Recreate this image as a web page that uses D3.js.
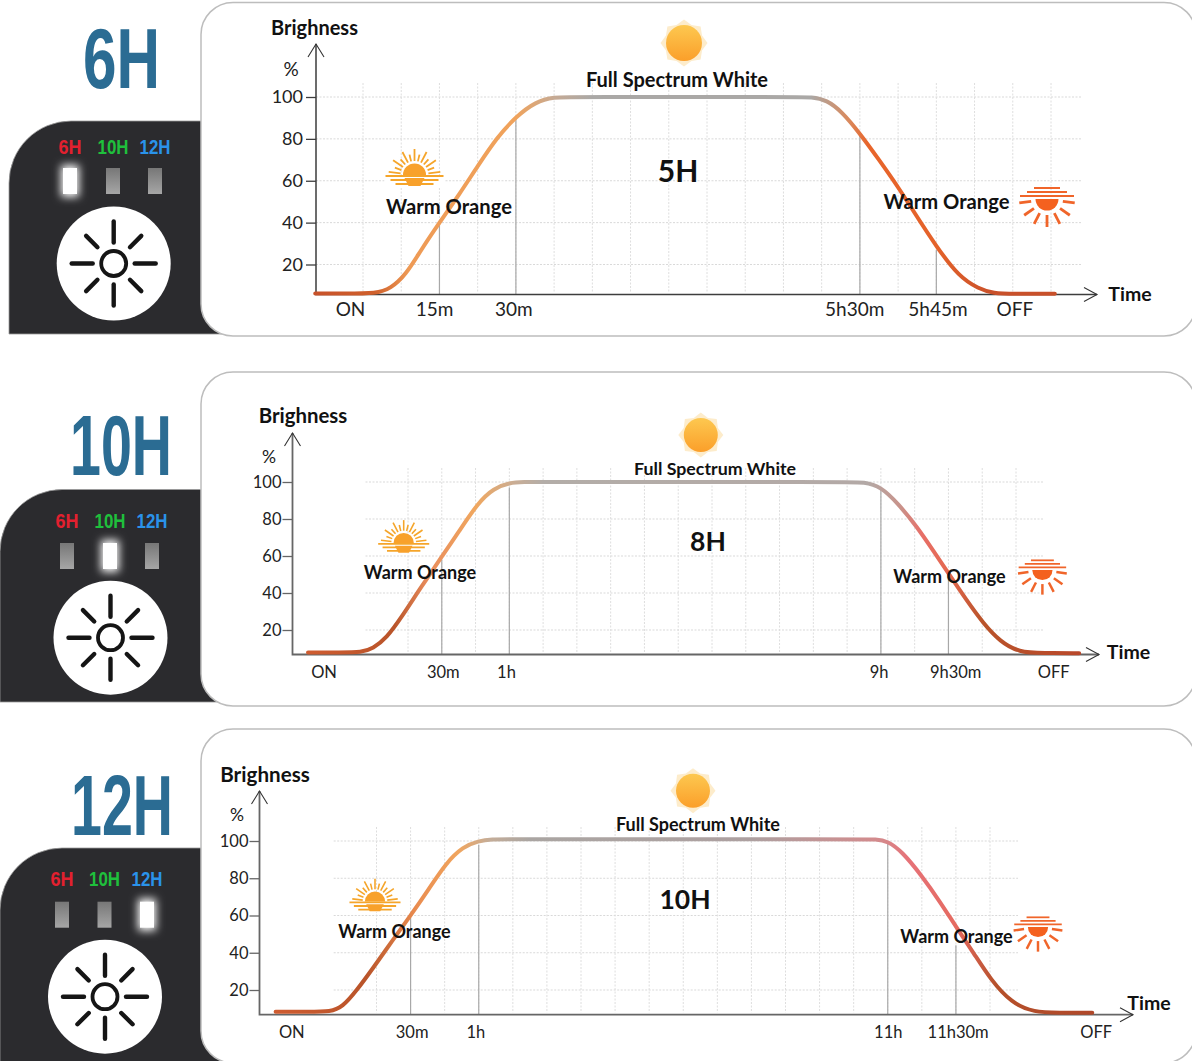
<!DOCTYPE html>
<html>
<head>
<meta charset="utf-8">
<title>Brightness timer curves</title>
<script src="https://cdn.jsdelivr.net/npm/d3@7"></script>
<style>
    html, body { margin: 0; padding: 0; background: #fff; }
    svg { display: block; }
    text { font-family: Lato, "Open Sans", sans-serif; fill: #1a1a1a; }
    .bold { font-weight: 700; fill: #111; }
    .narrow { font-family: "Liberation Sans Narrow", "Liberation Sans", sans-serif; font-weight: 700; }
</style>
</head>
<body>
<script>
var modeLabels = ["6H", "10H", "12H"];
var pctTicks = [20, 40, 60, 80, 100];
var gridSteps = d3.range(0, 19);

// x values are grid steps of the drawing, the time axis there is schematic
var steps6 = [-1.25, -0.5, 0.36, 0.72, 1.12, 1.52, 2, 2.52, 3, 3.52, 4, 4.52, 5, 5.5, 11.3, 11.74, 12.13, 12.53, 13, 13.5, 14, 14.4, 15, 15.6, 16.1, 16.5, 17, 18.1];
var pct6 = [6.1, 6.1, 6.1, 8.5, 15, 27, 40, 53.5, 67, 81, 90.6, 97.8, 100, 100, 100, 100, 98.6, 93, 82.6, 70, 57, 45.5, 28.5, 14, 8.5, 6.1, 6, 6];
var steps10 = [-2.96, -2, -1.37, -1.04, -0.64, -0.18, 0.38, 1, 1.5, 2.08, 2.54, 3, 3.44, 3.9, 13, 13.5, 14, 14.5, 15.07, 15.57, 16, 16.53, 17.03, 17.53, 18.09, 18.8, 19.87];
var pct10 = [7.9, 7.9, 7.9, 10, 15.5, 27.2, 43, 59.6, 73, 89, 96.6, 99.6, 100, 100, 100, 100, 97.5, 88.5, 75.8, 62.3, 50.6, 36.2, 23.6, 13.7, 7.9, 7.5, 7.5];
var steps12 = [-2.96, -2, -1.34, -1, -0.6, -0.1, 0.45, 0.98, 1.53, 2.03, 2.54, 2.99, 3.38, 3.9, 14.2, 14.65, 15, 15.42, 15.98, 16.53, 17, 17.52, 18.02, 18.63, 19.3, 20, 21];
var pct12 = [8.3, 8.3, 8.3, 10.9, 19.3, 31.8, 46.1, 59.5, 74, 88, 97, 100, 101, 101, 101, 101, 100, 94.3, 81.8, 67.5, 54, 39.9, 25.5, 13, 8, 7.8, 7.8];

var timeLabels6 = ["ON", "15m", "30m", "5h30m", "5h45m", "OFF"];
var timeSteps6 = [-0.34, 1.86, 3.93, 12.85, 15.03, 17.04];
var timeLabels10 = ["ON", "30m", "1h", "9h", "9h30m", "OFF"];
var timeSteps10 = [-2.5, 1.03, 2.9, 13.93, 16.2, 19.1];
var timeLabels12 = ["ON", "30m", "1h", "11h", "11h30m", "OFF"];
var timeSteps12 = [-2.5, 1.03, 2.9, 15, 17.05, 21.1];

var dropSteps6 = [2, 4, 13, 15];
var dropPct6 = [40, 90, 82, 27];
var dropSteps10 = [1, 3, 14, 16];
var dropPct10 = [58, 97, 97, 49];
var dropSteps12 = [1, 3, 15, 17];
var dropPct12 = [59, 98, 100, 44];

var panels = [
    {
        title: "6H", hours: "5H", active: 0,
        titleBox: [83, 88, 77, 86],
        card: [201, 2.5, 336], box: [9, 121, 334],
        modeX: [70, 113, 155], modeBase: 154, ledY: 168,
        knob: [113.7, 263.5],
        x: [363, 1051], y: [264.5, 97], baseline: 294.5, axisX: 316, axisTop: 44, axisEnd: 1097,
        gridTop: 83, gridX: [316, 1082], fs: 18, xfs: 19, yPad: 3, xPad: 8, axisW: 1.5, axisC: "#3d3d3d",
        steps: steps6, pct: pct6,
        timeLabels: timeLabels6, timeSteps: timeSteps6, dropSteps: dropSteps6, dropPct: dropPct6,
        brighness: [314.5, 35, 20], percent: [291, 76], time: [1130, 301],
        full: [677, 87, 20], hoursText: [678, 182, 30],
        warmL: [449, 214, 20.2], warmR: [946.5, 209, 20.2],
        sun: [684, 43, 18], rise: [414.5, 175, 1], set: [1047, 199, 1],
        stops: [[-1.25, "#c8522a"], [0.3, "#cf5f2b"], [1.2, "#ee9a55"], [4, "#f0a35c"], [5, "#c6aa94"], [6, "#aaa8a6"], [11.7, "#aaa8a6"], [12.7, "#d98a5e"], [13.2, "#e8652b"], [15, "#e4622a"], [16.5, "#c8502a"], [18.1, "#c8502a"]]
    },
    {
        title: "10H", hours: "8H", active: 1,
        titleBox: [70, 475, 102, 86],
        card: [201, 372, 706], box: [0, 489.5, 702],
        modeX: [67, 110, 152], modeBase: 528, ledY: 543,
        knob: [110.5, 637.7],
        x: [408, 1016], y: [630, 482], baseline: 654.5, axisX: 292.5, axisTop: 433, axisEnd: 1099,
        gridTop: 468, gridX: [365.5, 1043.5], fs: 16.5, xfs: 16.5, yPad: 1, xPad: 12, axisW: 1.8, axisC: "#666",
        steps: steps10, pct: pct10,
        timeLabels: timeLabels10, timeSteps: timeSteps10, dropSteps: dropSteps10, dropPct: dropPct10,
        brighness: [303, 423, 20.4], percent: [269, 463], time: [1128.5, 659],
        full: [715, 474.5, 17.8], hoursText: [708, 550.5, 26.5],
        warmL: [420, 579, 18], warmR: [949.5, 582.5, 18],
        sun: [700.8, 435, 17], rise: [403.7, 543, 0.88], set: [1042.4, 570, 0.88],
        stops: [[-2.96, "#cf5c30"], [-0.4, "#b9542a"], [0.6, "#e98d5c"], [2, "#f0a75f"], [3.2, "#c8ad96"], [4, "#b3ada8"], [13.6, "#b3a9a6"], [14.6, "#c9928a"], [15.2, "#e76f68"], [16, "#e4684f"], [17, "#b9532a"], [19.87, "#b9482a"]]
    },
    {
        title: "12H", hours: "10H", active: 2,
        titleBox: [71, 835, 102, 86],
        card: [201, 729, 1063], box: [0, 848, 1070],
        modeX: [62, 104.5, 147], modeBase: 886, ledY: 901.7,
        knob: [105, 996.7],
        x: [376.5, 990], y: [990, 841], baseline: 1014.7, axisX: 259.5, axisTop: 791, axisEnd: 1133,
        gridTop: 827, gridX: [333.7, 1018], fs: 16.5, xfs: 16.5, yPad: 1, xPad: 12, axisW: 1.8, axisC: "#666",
        steps: steps12, pct: pct12,
        timeLabels: timeLabels12, timeSteps: timeSteps12, dropSteps: dropSteps12, dropPct: dropPct12,
        brighness: [265, 781.5, 20.6], percent: [237, 821], time: [1149, 1010],
        full: [698, 830.5, 18], hoursText: [685, 908.5, 26.5],
        warmL: [394.5, 938, 18], warmR: [956.5, 943, 18],
        sun: [693, 790.7, 17], rise: [375, 901.6, 0.88], set: [1038, 927, 0.88],
        stops: [[-2.96, "#cf5c30"], [-0.3, "#b9542a"], [1.2, "#ea8d50"], [2.4, "#f0a55e"], [3.3, "#c5ad98"], [4.5, "#aaa5a2"], [11, "#ada0a0"], [14.8, "#d48a8c"], [15.6, "#e67278"], [17, "#e56a60"], [18.2, "#b5502a"], [21, "#b0482a"]]
    }
];

var modeColors = ["#e3202f", "#1fc03c", "#2a93ea"];
var modeWidths = [23, 31, 31];

var svg = d3.select("body").append("svg")
    .attr("width", 1192)
    .attr("height", 1061);

var defs = svg.append("defs");

var glow = defs.append("filter").attr("id", "glow")
    .attr("x", "-100%").attr("y", "-100%").attr("width", "300%").attr("height", "300%");
glow.append("feGaussianBlur").attr("stdDeviation", 4);

var ledGrey = defs.append("linearGradient").attr("id", "ledGrey")
    .attr("x1", 0).attr("x2", 0).attr("y1", 0).attr("y2", 1);
ledGrey.append("stop").attr("offset", 0).attr("stop-color", "#777");
ledGrey.append("stop").attr("offset", 1).attr("stop-color", "#a6a6a6");

var sunFill = defs.append("linearGradient").attr("id", "sunFill")
    .attr("x1", 0).attr("x2", 0).attr("y1", 0).attr("y2", 1);
sunFill.append("stop").attr("offset", 0).attr("stop-color", "#fdc850");
sunFill.append("stop").attr("offset", 1).attr("stop-color", "#fb9f2a");

// squeezes a text to a given width, the fonts here are wider than the original ones
function fitText(sel, x, y, w) {
    var natural = sel.node().getComputedTextLength();
    sel.attr("transform", "translate(" + x + "," + y + ") scale(" + (w / natural) + ",1)");
}

function drawControl(p) {
    var g = svg.append("g");
    var x0 = p.box[0], y0 = p.box[1], y1 = p.box[2], r = 62;
    g.append("path")
        .attr("d", "M" + x0 + "," + y1 + "V" + (y0 + r) + "A" + r + "," + r + " 0 0 1 " + (x0 + r) + "," + y0 + "H225V" + y1 + "Z")
        .attr("fill", "#2b2b2e")
        .attr("stroke", "#9a9a9a")
        .attr("stroke-width", 0.8);

    modeLabels.forEach(function(label, i) {
        var t = g.append("text")
            .attr("class", "narrow")
            .attr("font-size", 20)
            .style("fill", modeColors[i])
            .text(label);
        fitText(t, p.modeX[i] - modeWidths[i] / 2, p.modeBase, modeWidths[i]);
        if (i == p.active) {
            g.append("rect")
                .attr("x", p.modeX[i] - 9).attr("y", p.ledY - 3)
                .attr("width", 18).attr("height", 32)
                .attr("fill", "#fff").attr("filter", "url(#glow)");
        }
        g.append("rect")
            .attr("x", p.modeX[i] - 7).attr("y", p.ledY)
            .attr("width", 14).attr("height", 26)
            .attr("fill", i == p.active ? "#fff" : "url(#ledGrey)");
    });

    // round button with the sun glyph
    var k = g.append("g").attr("transform", "translate(" + p.knob[0] + "," + p.knob[1] + ")");
    k.append("circle").attr("r", 57).attr("fill", "#fff");
    k.append("circle").attr("r", 12.5).attr("fill", "none").attr("stroke", "#151515").attr("stroke-width", 3.8);
    d3.range(8).forEach(function(i) {
        var a = i * Math.PI / 4, r0 = i % 2 ? 23 : 21, r1 = i % 2 ? 39 : 42;
        k.append("line")
            .attr("x1", r0 * Math.cos(a)).attr("y1", r0 * Math.sin(a))
            .attr("x2", r1 * Math.cos(a)).attr("y2", r1 * Math.sin(a))
            .attr("stroke", "#151515").attr("stroke-width", 4.4).attr("stroke-linecap", "round");
    });
}

function drawCard(p) {
    svg.append("rect")
        .attr("x", p.card[0]).attr("y", p.card[1])
        .attr("width", 995).attr("height", p.card[2] - p.card[1])
        .attr("rx", 32).attr("ry", 32)
        .attr("fill", "#fff")
        .attr("stroke", "#bdbdbd")
        .attr("stroke-width", 1.5);

    var t = svg.append("text")
        .attr("class", "narrow")
        .attr("font-size", p.titleBox[3])
        .style("fill", "#2b6c93")
        .text(p.title);
    fitText(t, p.titleBox[0], p.titleBox[1], p.titleBox[2]);
}

function drawChart(p, idx) {
    var xScale = d3.scaleLinear().domain([0, 18]).range(p.x);
    var yScale = d3.scaleLinear().domain([20, 100]).range(p.y);
    var g = svg.append("g");

    // grid
    g.selectAll(".gridY").data(pctTicks).enter().append("line")
        .attr("x1", p.gridX[0]).attr("x2", p.gridX[1])
        .attr("y1", function(d){ return yScale(d); })
        .attr("y2", function(d){ return yScale(d); })
        .attr("stroke", "#d9d9d9").attr("stroke-dasharray", "2,1.5");
    g.selectAll(".gridX").data(gridSteps).enter().append("line")
        .attr("x1", function(d){ return xScale(d); })
        .attr("x2", function(d){ return xScale(d); })
        .attr("y1", p.gridTop).attr("y2", p.baseline - 2)
        .attr("stroke", "#dedede").attr("stroke-dasharray", "2,1.5");

    // lines dropped from the curve to the time axis
    p.dropSteps.forEach(function(s, i) {
        g.append("line")
            .attr("x1", xScale(s)).attr("x2", xScale(s))
            .attr("y1", yScale(p.dropPct[i])).attr("y2", p.baseline)
            .attr("stroke", "#a8a8a8").attr("stroke-width", 1.2);
    });

    // axes, the domains are drawn by hand because of the open arrow heads
    var yAxisCall = d3.axisLeft(yScale).tickValues(pctTicks).tickSize(10).tickPadding(p.yPad);
    var yAxis = g.append("g")
        .attr("transform", "translate(" + p.axisX + ",0)")
        .call(yAxisCall);
    yAxis.select(".domain").remove();
    yAxis.selectAll("line").attr("stroke", p.axisC).attr("stroke-width", 1.3);
    yAxis.selectAll("text")
        .attr("font-size", p.fs)
        .style("font-family", "Lato")
        .style("fill", "#222");

    var xAxisCall = d3.axisBottom(xScale)
        .tickValues(p.timeSteps)
        .tickSize(0)
        .tickPadding(p.xPad)
        .tickFormat(function(d, i){ return p.timeLabels[i]; });
    var xAxis = g.append("g")
        .attr("transform", "translate(0," + p.baseline + ")")
        .call(xAxisCall);
    xAxis.select(".domain").remove();
    xAxis.selectAll("text")
        .attr("font-size", p.xfs)
        .style("font-family", "Lato")
        .style("fill", "#222");

    var axisPath = d3.path();
    axisPath.moveTo(p.axisX, p.axisTop);
    axisPath.lineTo(p.axisX, p.baseline);
    axisPath.lineTo(p.axisEnd, p.baseline);
    g.append("path").attr("d", axisPath.toString())
        .attr("fill", "none").attr("stroke", p.axisC).attr("stroke-width", p.axisW);

    var arrows = d3.path();
    arrows.moveTo(p.axisX - 8, p.axisTop + 13);
    arrows.lineTo(p.axisX, p.axisTop);
    arrows.lineTo(p.axisX + 8, p.axisTop + 13);
    arrows.moveTo(p.axisEnd - 13, p.baseline - 7);
    arrows.lineTo(p.axisEnd, p.baseline);
    arrows.lineTo(p.axisEnd - 13, p.baseline + 7);
    g.append("path").attr("d", arrows.toString())
        .attr("fill", "none").attr("stroke", "#333").attr("stroke-width", 1.1);

    // the brightness curve, coloured along x
    var sx = xScale(p.steps[0]), ex = xScale(p.steps[p.steps.length - 1]);
    var grad = defs.append("linearGradient")
        .attr("id", "curve" + idx)
        .attr("gradientUnits", "userSpaceOnUse")
        .attr("x1", sx).attr("x2", ex).attr("y1", 0).attr("y2", 0);
    p.stops.forEach(function(s) {
        grad.append("stop")
            .attr("offset", (xScale(s[0]) - sx) / (ex - sx))
            .attr("stop-color", s[1]);
    });

    var line = d3.line()
        .x(function(d){ return xScale(d); })
        .y(function(d, i){ return yScale(p.pct[i]); })
        .curve(d3.curveBasis);
    g.append("path")
        .attr("d", line(p.steps))
        .attr("fill", "none")
        .attr("stroke", "url(#curve" + idx + ")")
        .attr("stroke-width", 4)
        .attr("stroke-linecap", "round");

    // labels
    label(g, "Brighness", p.brighness[0], p.brighness[1], p.brighness[2], true);
    label(g, "%", p.percent[0], p.percent[1], p.fs + 1, false);
    label(g, "Time", p.time[0], p.time[1], 19.5, true);
    label(g, "Full Spectrum White", p.full[0], p.full[1], p.full[2], true);
    label(g, p.hours, p.hoursText[0], p.hoursText[1], p.hoursText[2], true);
    label(g, "Warm Orange", p.warmL[0], p.warmL[1], p.warmL[2], true);
    label(g, "Warm Orange", p.warmR[0], p.warmR[1], p.warmR[2], true);

    drawSun(g, p.sun);
    drawRise(g, p.rise);
    drawSet(g, p.set);
}

function label(g, txt, x, y, size, bold) {
    g.append("text")
        .attr("class", bold ? "bold" : null)
        .attr("x", x)
        .attr("y", y)
        .attr("text-anchor", "middle")
        .attr("font-size", size)
        .text(txt);
}

function drawSun(g, s) {
    var t = g.append("g").attr("transform", "translate(" + s[0] + "," + s[1] + ")");
    var star = d3.range(16).map(function(i) {
        var a = i * Math.PI / 8, r = (i % 2 ? s[2] + 1.5 : s[2] + 5.5);
        return [r * Math.sin(a), -r * Math.cos(a)];
    });
    t.append("path")
        .attr("d", "M" + star.join("L") + "Z")
        .attr("fill", "#fdeccb");
    t.append("circle").attr("r", s[2]).attr("fill", "url(#sunFill)");
}

function drawRise(g, s) {
    var col = "#f5a52a";
    var t = g.append("g").attr("transform", "translate(" + s[0] + "," + s[1] + ") scale(" + s[2] + ")");
    t.append("circle").attr("r", 11.5).attr("fill", "#f8a12b");
    d3.range(-6, 7).forEach(function(i) {
        var a = i * Math.PI / 13, r0 = 14, r1 = i % 2 ? 21 : 26;
        t.append("line")
            .attr("x1", r0 * Math.sin(a)).attr("y1", -r0 * Math.cos(a))
            .attr("x2", r1 * Math.sin(a)).attr("y2", -r1 * Math.cos(a))
            .attr("stroke", col).attr("stroke-width", 1.8);
    });
    t.append("rect").attr("x", -30).attr("y", 0).attr("width", 60).attr("height", 12).attr("fill", "#fff");
    [[-29, 29, 1], [-24, 24, 5], [-19, 19, 9]].forEach(function(l) {
        t.append("line")
            .attr("x1", l[0]).attr("x2", l[1]).attr("y1", l[2]).attr("y2", l[2])
            .attr("stroke", col).attr("stroke-width", 2);
    });
    t.append("path").attr("d", "M-10,3H10L6,11H-6Z").attr("fill", "#f8a12b");
}

function drawSet(g, s) {
    var col = "#f0652a";
    var t = g.append("g").attr("transform", "translate(" + s[0] + "," + s[1] + ") scale(" + s[2] + ")");
    [[-13, 13, -11], [-20, 20, -7], [-27, 27, -3]].forEach(function(l) {
        t.append("line")
            .attr("x1", l[0]).attr("x2", l[1]).attr("y1", l[2]).attr("y2", l[2])
            .attr("stroke", col).attr("stroke-width", 2);
    });
    t.append("path").attr("d", "M-11.5,0A11.5,11.5 0 0 0 11.5,0Z").attr("fill", "#f4611f");
    d3.range(-3, 4).forEach(function(i) {
        var a = i * Math.PI / 6.6, r0 = 16, r1 = 28;
        t.append("line")
            .attr("x1", r0 * Math.sin(a)).attr("y1", r0 * Math.cos(a))
            .attr("x2", r1 * Math.sin(a)).attr("y2", r1 * Math.cos(a))
            .attr("stroke", col).attr("stroke-width", 2.8);
    });
}

panels.forEach(function(p, i) {
    drawControl(p);
    drawCard(p);
    drawChart(p, i);
});
</script>
</body>
</html>
